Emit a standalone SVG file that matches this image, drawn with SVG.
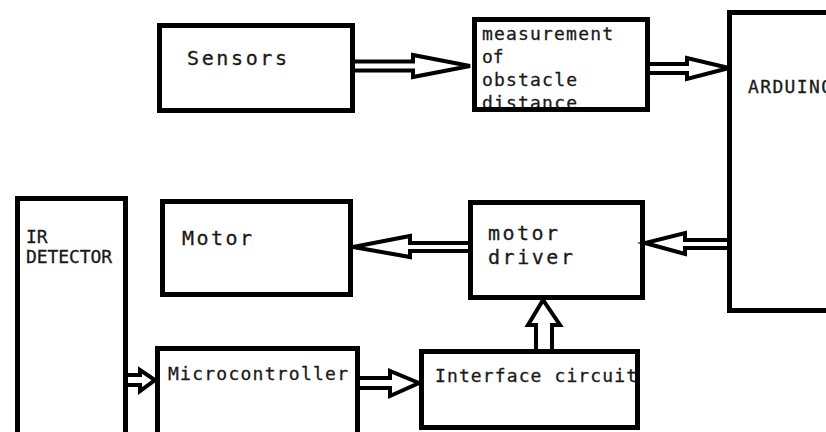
<svg xmlns="http://www.w3.org/2000/svg" width="826" height="432" viewBox="0 0 826 432">
  <style>
    .box { fill: none; stroke: #000; stroke-width: 5; stroke-linejoin: miter; }
    .lbl { font-family: "DejaVu Sans Mono", "Liberation Mono", monospace; font-size: 20px; fill: #1a1a1a; stroke: #1a1a1a; stroke-width: 0.3; }
    .sm { font-size: 18px; }
    .arr { fill: #fff; stroke: #000; stroke-width: 4; stroke-linejoin: miter; }
  </style>
  <rect width="826" height="432" fill="#fff"/>

  <g id="sensors">
    <text class="lbl" x="187" y="65" textLength="100" lengthAdjust="spacing">Sensors</text>
    <rect class="box" x="159.5" y="25.5" width="193" height="85"/>
  </g>

  <g id="measurement">
    <text class="lbl sm" x="482" y="40" textLength="131" lengthAdjust="spacing">measurement</text>
    <text class="lbl sm" x="482" y="63">of</text>
    <text class="lbl sm" x="482" y="86" textLength="95" lengthAdjust="spacing">obstacle</text>
    <text class="lbl sm" x="482" y="109" textLength="95" lengthAdjust="spacing">distance</text>
    <rect class="box" x="474.5" y="19.5" width="173" height="90"/>
  </g>

  <g id="arduino">
    <text class="lbl sm" x="748" y="93" textLength="84" lengthAdjust="spacing">ARDUINO</text>
    <path class="box" d="M 830 12.5 H 729.5 V 310.5 H 830"/>
  </g>

  <g id="ir-detector">
    <text class="lbl sm" x="26" y="243" font-size="16">IR</text>
    <text class="lbl sm" x="26" y="263" font-size="16" textLength="86" lengthAdjust="spacing">DETECTOR</text>
    <path class="box" d="M 17.5 440 V 198.5 H 125.5 V 440"/>
  </g>

  <g id="motor">
    <text class="lbl" x="182" y="245" textLength="70" lengthAdjust="spacing">Motor</text>
    <rect class="box" x="162.5" y="201.5" width="188" height="93"/>
  </g>

  <g id="motor-driver">
    <text class="lbl" x="488" y="240" textLength="70" lengthAdjust="spacing">motor</text>
    <text class="lbl" x="488" y="264" textLength="85" lengthAdjust="spacing">driver</text>
    <rect class="box" x="470.5" y="202.5" width="172" height="95"/>
  </g>

  <g id="microcontroller">
    <text class="lbl sm" x="168" y="380" textLength="180" lengthAdjust="spacing">Microcontroller</text>
    <path class="box" d="M 157.5 440 V 348.5 H 357.5 V 440"/>
  </g>

  <g id="interface-circuit">
    <text class="lbl sm" x="435" y="382" textLength="202" lengthAdjust="spacing">Interface circuit</text>
    <rect class="box" x="421.5" y="351.5" width="216" height="76"/>
  </g>

  <g id="connectors">
    <!-- Sensors to measurement -->
    <path class="arr" d="M 355 61.5 H 413 V 55 L 470 66 L 413 77 V 70.5 H 355"/>
    <!-- measurement to ARDUINO -->
    <path class="arr" d="M 650 64 H 687 V 58 L 729 68 L 687 79 V 73 H 650"/>
    <!-- ARDUINO to motor driver -->
    <path class="arr" d="M 727 240 H 685 V 233 L 645 243 L 685 254 V 248 H 727"/>
    <!-- motor driver to Motor -->
    <path class="arr" d="M 468 243 H 410 V 236 L 353 247 L 410 257 V 251 H 468"/>
    <!-- IR detector to microcontroller -->
    <path class="arr" d="M 128 375 H 140 V 370 L 155 380 L 140 391 V 385 H 128"/>
    <!-- microcontroller to interface circuit -->
    <path class="arr" d="M 360 378 H 390 V 371 L 419 383 L 390 396 V 388 H 360"/>
    <!-- interface circuit up to motor driver -->
    <path class="arr" d="M 536 349 V 325 H 528 L 543 300 L 560 325 H 552 V 349"/>
  </g>
</svg>
